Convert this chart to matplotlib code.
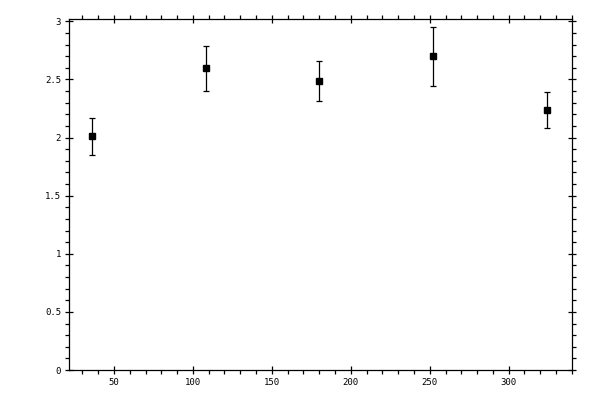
import numpy as np
from matplotlib import pyplot as plt
from matplotlib.ticker import MultipleLocator

x = [36, 108, 180, 252, 324]
y = [2.01, 2.595, 2.485, 2.70, 2.235]
err = [0.16, 0.195, 0.17, 0.255, 0.155]

plt.rcParams['font.family'] = 'DejaVu Sans Mono'

fig = plt.figure(figsize=(6, 4), dpi=100)
ax = fig.add_axes([0.115, 0.075, 0.838, 0.8775])

ax.errorbar(x, y, yerr=err, fmt='s', color='black', markersize=5,
            elinewidth=0.9, capsize=2, capthick=0.9)

ax.set_xlim(21.5, 340)
ax.set_ylim(0, 3.02)
ax.xaxis.set_major_locator(MultipleLocator(50))
ax.xaxis.set_minor_locator(MultipleLocator(10))
ax.yaxis.set_minor_locator(MultipleLocator(0.1))
ax.set_yticks([0, 0.5, 1, 1.5, 2, 2.5, 3])
ax.set_yticklabels(['0', '0.5', '1', '1.5', '2', '2.5', '3'])

for s in ax.spines.values():
    s.set_linewidth(0.9)
ax.tick_params(which='major', direction='inout', length=5.5, width=0.9,
               top=True, right=True, labelsize=6.5, pad=3)
ax.tick_params(which='minor', direction='out', length=2.7, width=0.9,
               top=True, right=True)

plt.savefig('out.png', dpi=100)
